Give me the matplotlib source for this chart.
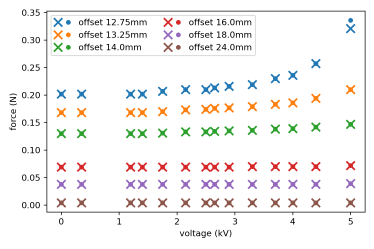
import io
import matplotlib
matplotlib.use("Agg")
import matplotlib.pyplot as plt
import numpy as np
from matplotlib.legend_handler import HandlerTuple

voltage = [0, 0.35, 1.2, 1.4, 1.75, 2.15, 2.5, 2.65, 2.9, 3.3, 3.7, 4.0, 4.4, 5.0]

offsets = ["12.75", "13.25", "14.0", "16.0", "18.0", "24.0"]

# measured force (N), one list per offset
f_1275 = [0.202, 0.202, 0.202, 0.202, 0.207, 0.210, 0.210, 0.213, 0.216, 0.219, 0.230, 0.236, 0.257, 0.321]
f_1325 = [0.168, 0.168, 0.168, 0.168, 0.170, 0.173, 0.174, 0.176, 0.177, 0.179, 0.183, 0.186, 0.194, 0.210]
f_1400 = [0.130, 0.130, 0.130, 0.130, 0.131, 0.133, 0.133, 0.134, 0.135, 0.136, 0.138, 0.139, 0.142, 0.147]
f_1600 = [0.069, 0.069, 0.069, 0.069, 0.069, 0.069, 0.069, 0.069, 0.069, 0.070, 0.070, 0.070, 0.070, 0.072]
f_1800 = [0.038, 0.038, 0.038, 0.038, 0.038, 0.038, 0.038, 0.038, 0.038, 0.038, 0.038, 0.038, 0.038, 0.039]
f_2400 = [0.004, 0.004, 0.004, 0.004, 0.004, 0.004, 0.004, 0.004, 0.004, 0.004, 0.004, 0.004, 0.004, 0.004]

# second set (dots), same as measured except the last 12.75mm point
g_1275 = f_1275[:-1] + [0.336]
g_1325 = list(f_1325)
g_1400 = list(f_1400)
g_1600 = list(f_1600)
g_1800 = list(f_1800)
g_2400 = list(f_2400)

forces_x = [f_1275, f_1325, f_1400, f_1600, f_1800, f_2400]
forces_dot = [g_1275, g_1325, g_1400, g_1600, g_1800, g_2400]

W, H, DPI = 374, 249, 62
fig = plt.figure(figsize=(W / DPI, H / DPI), dpi=DPI)
ax = fig.add_axes([46.7 / W, 1 - 212 / H, (365 - 46.7) / W, (212 - 11) / H])

handles = []
labels = []
for i, off in enumerate(offsets):
    c = f"C{i}"
    hx, = ax.plot(voltage, forces_x[i], "x", color=c, markersize=10, mew=2)
    hd, = ax.plot(voltage, forces_dot[i], "o", color=c, markersize=4.5)
    handles.append((hx, hd))
    labels.append(f"offset {off}mm")

ax.set_xlabel("voltage (kV)")
ax.set_ylabel("force (N)")
ax.set_xticks([0, 1, 2, 3, 4, 5])
ax.legend(handles, labels, ncol=2, loc="upper left",
          handler_map={tuple: HandlerTuple(ndivide=None)})

# render large, then shrink (the reference looks like a downscaled image)
k = 4
buf = io.BytesIO()
fig.savefig(buf, format="png", dpi=DPI * k)
buf.seek(0)
img = plt.imread(buf)
h, w = (img.shape[0] // k) * k, (img.shape[1] // k) * k
img = img[:h, :w].reshape(h // k, k, w // k, k, -1).mean(axis=(1, 3))
plt.imsave("out.png", np.clip(img, 0, 1))
